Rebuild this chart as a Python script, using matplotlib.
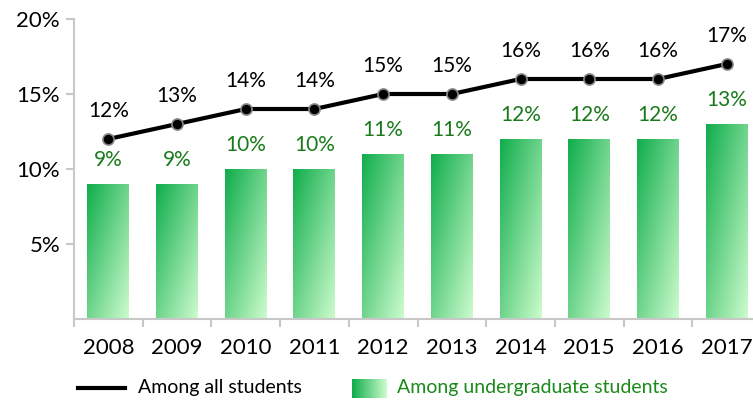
import numpy as np
import matplotlib
matplotlib.use("Agg")
import matplotlib.pyplot as plt
from matplotlib.colors import LinearSegmentedColormap
from matplotlib.lines import Line2D

years = ["2008", "2009", "2010", "2011", "2012", "2013", "2014", "2015", "2016", "2017"]
all_students = [12, 13, 14, 14, 15, 15, 16, 16, 16, 17]
undergrad = [9, 9, 10, 10, 11, 11, 12, 12, 12, 13]
yticks = [5, 10, 15, 20]

plt.rcParams['font.family'] = ['Lato', 'DejaVu Sans']

W, H = 753, 401
fig = plt.figure(figsize=(W / 100, H / 100), dpi=100)
x0, x1 = 74, 74 + 10 * 68.7
y0, y1 = 319, 19
ax = fig.add_axes([x0 / W, 1 - y0 / H, (x1 - x0) / W, (y0 - y1) / H])
ax.set_xlim(-0.5, 9.5)
ax.set_ylim(0, 20)

cmap = LinearSegmentedColormap.from_list("g", ["#10ad4c", "#cdfccd"])
grad = np.add.outer(np.linspace(0, 1, 100), np.linspace(0, 1, 100)) / 2  # rows top->bottom

xs = np.arange(len(years))
bw = 0.61
bars = ax.bar(xs, undergrad, width=bw, color="none", edgecolor="none", zorder=2)
for b in bars:
    bx, by = b.get_x(), b.get_y()
    im = ax.imshow(grad, cmap=cmap, extent=[bx, bx + b.get_width(), by, by + b.get_height()],
                   origin="upper", aspect="auto", zorder=2, interpolation="bilinear")
    im.set_clip_path(b)
ax.set_xlim(-0.5, 9.5)
ax.set_ylim(0, 20)

ax.plot(xs, all_students, color="black", lw=3, marker="o", ms=8,
        markerfacecolor="black", markeredgecolor="#888888", markeredgewidth=1.2, zorder=4)

for x, v in zip(xs, all_students):
    ax.text(x, v + 1.2, f"{v}%", ha="center", va="bottom", fontsize=15, color="black")
for x, v in zip(xs, undergrad):
    ax.text(x, v + 0.95, f"{v}%", ha="center", va="bottom", fontsize=15, color="#1a7a1a")

for s in ["top", "right"]:
    ax.spines[s].set_visible(False)
for s in ["left", "bottom"]:
    ax.spines[s].set_color("#c8c8c8")
    ax.spines[s].set_linewidth(1.5)

ax.set_yticks(yticks)
ax.set_yticklabels([f"{v}%" for v in yticks], fontsize=16)
ax.tick_params(axis="y", length=6, color="#c8c8c8", width=1.5, pad=4)
ax.set_xticks(np.arange(-0.5, 10, 1.0))
ax.set_xticklabels([])
ax.tick_params(axis="x", length=6, color="#c8c8c8", width=1.5)
for x, lab in zip(xs, years):
    ax.text(x, -1.95, lab, ha="center", va="center", fontsize=16, color="black",
            transform=ax.transData)

# legend
ly = 1 - 388 / H
fig.add_artist(Line2D([78 / W, 125 / W], [ly, ly], color="black", lw=3))
fig.text(138 / W, ly, "Among all students", fontsize=14, va="center", ha="left")
lax = fig.add_axes([352 / W, 1 - 398 / H, 35 / W, 19 / H])
lax.imshow(np.linspace(0, 1, 50)[None, :], cmap=cmap, aspect="auto")
lax.axis("off")
fig.text(397 / W, ly, "Among undergraduate students", fontsize=14, va="center",
         ha="left", color="#1a8a1a")

fig.savefig("out.png", dpi=100)
